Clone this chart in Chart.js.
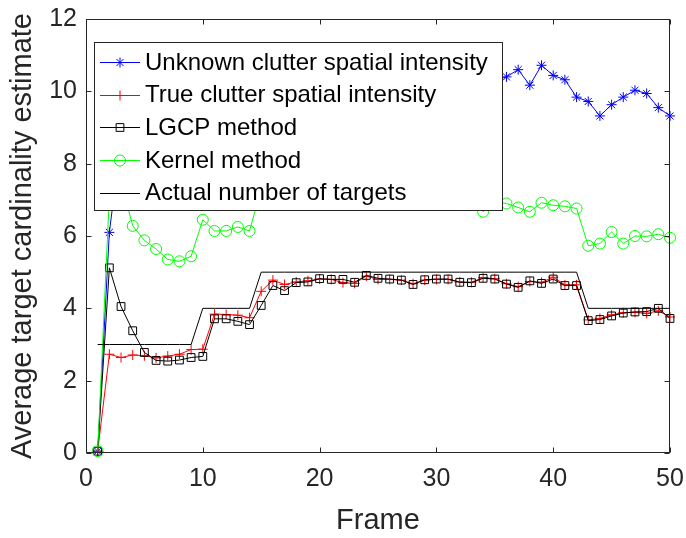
<!DOCTYPE html>
<html>
<head>
<meta charset="utf-8">
<script src="https://cdn.jsdelivr.net/npm/chart.js@4.4.1/dist/chart.umd.min.js"></script>
<style>
  html, body { margin: 0; padding: 0; background: #fff; }
  #wrap { width: 686px; height: 538px; }
</style>
</head>
<body>
<div id="wrap"><canvas id="chart" width="686" height="538"></canvas></div>
<script>
// Frame numbers (x axis)
const frames = [1, 2, 3, 4, 5, 6, 7, 8, 9, 10,
                11, 12, 13, 14, 15, 16, 17, 18, 19, 20,
                21, 22, 23, 24, 25, 26, 27, 28, 29, 30,
                31, 32, 33, 34, 35, 36, 37, 38, 39, 40,
                41, 42, 43, 44, 45, 46, 47, 48, 49, 50];

// Unknown clutter spatial intensity (blue, frames 4-35 sit behind the legend)
const unknownClutter = [0.05, 6.10, 8.70, 9.60, 10.10, 9.90, 10.30, 10.00, 10.50, 10.20,
                        10.40, 10.60, 10.10, 10.30, 10.70, 10.40, 10.20, 10.50, 10.30, 10.60,
                        10.40, 10.10, 10.50, 10.30, 10.60, 10.20, 10.40, 10.50, 10.30, 10.60,
                        10.40, 10.20, 10.50, 10.40, 10.30, 10.40, 10.60, 10.17, 10.72, 10.44,
                        10.32, 9.84, 9.72, 9.32, 9.63, 9.84, 10.03, 9.94, 9.55, 9.32];

// True clutter spatial intensity (red)
const trueClutter = [0.05, 2.73, 2.64, 2.71, 2.69, 2.63, 2.68, 2.73, 2.86, 2.87,
                     3.84, 3.83, 3.81, 3.74, 4.47, 4.78, 4.66, 4.73, 4.76, 4.81,
                     4.80, 4.71, 4.69, 4.89, 4.80, 4.80, 4.78, 4.68, 4.78, 4.80,
                     4.80, 4.73, 4.72, 4.85, 4.82, 4.68, 4.60, 4.74, 4.72, 4.86,
                     4.65, 4.65, 3.68, 3.72, 3.82, 3.88, 3.89, 3.86, 3.93, 3.76];

// LGCP method (black squares)
const lgcp = [0.05, 5.12, 4.05, 3.38, 2.78, 2.56, 2.54, 2.57, 2.64, 2.67,
              3.71, 3.71, 3.64, 3.55, 4.08, 4.63, 4.49, 4.71, 4.73, 4.82,
              4.80, 4.80, 4.72, 4.91, 4.83, 4.81, 4.78, 4.66, 4.79, 4.81,
              4.81, 4.72, 4.71, 4.83, 4.81, 4.67, 4.58, 4.76, 4.69, 4.81,
              4.63, 4.63, 3.66, 3.69, 3.79, 3.87, 3.90, 3.91, 4.00, 3.72];

// Kernel method (green circles, frames 16-33 sit behind the legend)
const kernel = [0.05, 7.10, 7.50, 6.28, 5.88, 5.64, 5.35, 5.30, 5.44, 6.45,
                6.14, 6.14, 6.25, 6.14, 7.30, 7.40, 7.20, 7.50, 7.30, 7.60,
                7.40, 7.20, 7.50, 7.30, 7.40, 7.60, 7.30, 7.20, 7.50, 7.40,
                7.10, 7.30, 7.00, 6.67, 6.95, 6.90, 6.79, 6.67, 6.92, 6.85,
                6.82, 6.76, 5.73, 5.79, 6.11, 5.79, 6.00, 5.99, 6.05, 5.95];

// Actual number of targets
const actualTargets = [3, 3, 3, 3, 3, 3, 3, 3, 3, 4,
                       4, 4, 4, 4, 5, 5, 5, 5, 5, 5,
                       5, 5, 5, 5, 5, 5, 5, 5, 5, 5,
                       5, 5, 5, 5, 5, 5, 5, 5, 5, 5,
                       5, 5, 4, 4, 4, 4, 4, 4, 4, 4];

const xTicks = [0, 10, 20, 30, 40, 50];
const yTicks = [0, 2, 4, 6, 8, 10, 12];

const axisColor = '#262626';
const fontFamily = "'Liberation Sans', Arial, Helvetica, sans-serif";

function toPoints(values) {
    return frames.map((f, i) => ({ x: f, y: values[i] }));
}

function series(label, values, color, style, radius, order) {
    return {
        label: label,
        data: toPoints(values),
        borderColor: color,
        backgroundColor: 'rgba(0,0,0,0)',
        borderWidth: 1,
        pointStyle: style,
        pointRadius: radius,
        pointBorderColor: color,
        pointBackgroundColor: 'rgba(0,0,0,0)',
        pointBorderWidth: 1,
        tension: 0,
        fill: false,
        clip: false,
        order: order
    };
}

const datasets = [
    series('Unknown clutter spatial intensity', unknownClutter, '#0000ff', 'star', 5, 5),
    series('True clutter spatial intensity', trueClutter, '#ff0000', 'cross', 5, 4),
    series('LGCP method', lgcp, '#000000', 'rect', 5.5, 3),
    series('Kernel method', kernel, '#00ff00', 'circle', 5.5, 2),
    series('Actual number of targets', actualTargets, '#000000', false, 0, 1)
];

// box around the axes with inward tick marks, like the original figure
const boxPlugin = {
    id: 'axesBox',
    afterDatasetsDraw(chart) {
        const { ctx, chartArea: a, scales: { x, y } } = chart;
        const L = Math.round(a.left) + 0.5, R = Math.round(a.right) - 0.5;
        const T = Math.round(a.top) + 0.5, B = Math.round(a.bottom) - 0.5;
        const len = 5;
        ctx.save();
        ctx.strokeStyle = axisColor;
        ctx.lineWidth = 1;
        ctx.strokeRect(L, T, R - L, B - T);
        ctx.beginPath();
        xTicks.forEach(v => {
            const px = Math.round(x.getPixelForValue(v)) + 0.5;
            ctx.moveTo(px, B); ctx.lineTo(px, B - len);
            ctx.moveTo(px, T); ctx.lineTo(px, T + len);
        });
        yTicks.forEach(v => {
            const py = Math.round(y.getPixelForValue(v)) + 0.5;
            ctx.moveTo(L, py); ctx.lineTo(L + len, py);
            ctx.moveTo(R, py); ctx.lineTo(R - len, py);
        });
        ctx.stroke();
        ctx.restore();
    }
};

// boxed legend drawn inside the plot area
const legendPlugin = {
    id: 'boxLegend',
    afterDraw(chart) {
        const ctx = chart.ctx;
        const box = { left: 94.5, top: 42.5, right: 502.5, bottom: 210.5 };
        const firstRow = 62, rowStep = 32.7;
        ctx.save();
        ctx.fillStyle = '#ffffff';
        ctx.fillRect(box.left, box.top, box.right - box.left, box.bottom - box.top);
        ctx.strokeStyle = axisColor;
        ctx.lineWidth = 1;
        ctx.strokeRect(box.left, box.top, box.right - box.left, box.bottom - box.top);

        chart.data.datasets.forEach((ds, i) => {
            const yc = firstRow + i * rowStep;
            ctx.strokeStyle = ds.borderColor;
            ctx.lineWidth = 1;
            ctx.beginPath();
            ctx.moveTo(100, Math.round(yc) + 0.5);
            ctx.lineTo(140, Math.round(yc) + 0.5);
            ctx.stroke();
            if (ds.pointStyle) {
                ctx.fillStyle = 'rgba(0,0,0,0)';
                Chart.helpers.drawPoint(ctx, {
                    pointStyle: ds.pointStyle,
                    radius: ds.pointRadius,
                    rotation: 0,
                    borderWidth: 1
                }, 120, Math.round(yc) + 0.5);
            }
            ctx.fillStyle = '#000000';
            ctx.font = '24px ' + fontFamily;
            ctx.textAlign = 'left';
            ctx.textBaseline = 'middle';
            ctx.fillText(ds.label, 145, yc + 1);
        });
        ctx.restore();
    }
};

const chart = new Chart(document.getElementById('chart'), {
    type: 'line',
    data: { datasets: datasets },
    options: {
        responsive: false,
        animation: false,
        devicePixelRatio: 1,
        layout: { padding: { top: 19, right: 16, left: 0, bottom: 0 } },
        plugins: {
            legend: { display: false },
            tooltip: { enabled: false }
        },
        scales: {
            x: {
                type: 'linear',
                min: 0,
                max: 50,
                afterBuildTicks: scale => { scale.ticks = xTicks.map(v => ({ value: v })); },
                afterFit: scale => {
                    scale.height = 85;
                    scale.paddingLeft = 0;
                    scale.paddingRight = 0;
                },
                grid: { display: false, drawTicks: false },
                border: { display: false },
                ticks: {
                    color: axisColor,
                    padding: 11,
                    maxRotation: 0,
                    font: { size: 25, family: fontFamily }
                },
                title: {
                    display: true,
                    text: 'Frame',
                    color: axisColor,
                    padding: { top: 0, bottom: 0 },
                    font: { size: 29, family: fontFamily }
                }
            },
            y: {
                min: 0,
                max: 12,
                afterBuildTicks: scale => { scale.ticks = yTicks.map(v => ({ value: v })); },
                afterFit: scale => {
                    scale.width = 86;
                    scale.paddingTop = 0;
                    scale.paddingBottom = 0;
                },
                grid: { display: false, drawTicks: false },
                border: { display: false },
                ticks: {
                    color: axisColor,
                    padding: 9,
                    font: { size: 25, family: fontFamily }
                },
                title: {
                    display: true,
                    text: 'Average target cardinality estimate',
                    color: axisColor,
                    padding: { top: 6, bottom: 0 },
                    font: { size: 29, family: fontFamily }
                }
            }
        }
    },
    plugins: [boxPlugin, legendPlugin]
});
</script>
</body>
</html>
